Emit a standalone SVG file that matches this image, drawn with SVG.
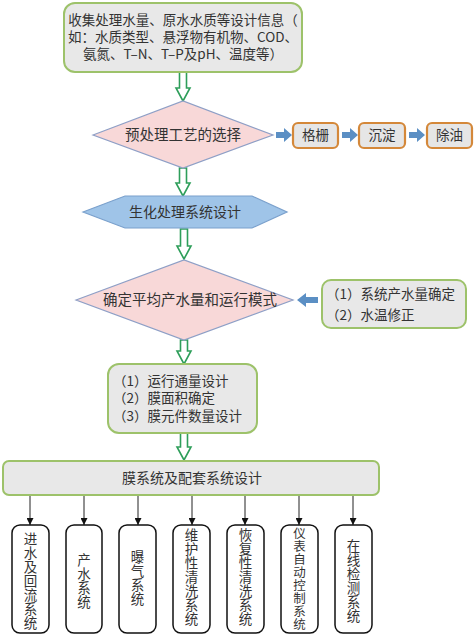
<svg xmlns="http://www.w3.org/2000/svg" width="476" height="634" viewBox="0 0 476 634">
<defs>
<style>
text{font-family:"Noto Sans CJK SC","Noto Sans",sans-serif;fill:#333;}
.gbox{fill:#e8e8e8;stroke:#9dc26a;stroke-width:2;}
.obox{fill:#e6e6e6;stroke:#d4883a;stroke-width:2.2;}
.dia{fill:#f8d8d8;stroke:#8e9fc6;stroke-width:1.2;}
.hex{fill:#9fc4e8;stroke:#7aa0cc;stroke-width:1.2;}
.hollow{fill:#fff;stroke:#2e9e5a;stroke-width:1.6;}
.blue{fill:#5b8fc4;}
.sys{fill:#fff;stroke:#111;stroke-width:1.5;}
.line{stroke:#222;stroke-width:1;fill:none;}
.c{text-anchor:middle;}
.v{text-anchor:middle;font-size:13.5px;}
</style>
<marker id="ah" viewBox="0 0 10 10" refX="10" refY="5" markerWidth="7" markerHeight="7" markerUnits="userSpaceOnUse" orient="auto">
<path d="M0,0 L10,5 L0,10 Z" fill="#111"/>
</marker>
</defs>
<rect width="476" height="634" fill="#fff"/>

<g id="connectors">
<path class="hollow" d="M179.5,72 L186.5,72 L186.5,88 L190,88 L183,101 L176,88 L179.5,88 Z"/>
<path class="hollow" d="M179.5,168 L186.5,168 L186.5,183 L190,183 L183,196 L176,183 L179.5,183 Z"/>
<path class="hollow" d="M180.5,229 L187.5,229 L187.5,246 L191,246 L184,259 L177,246 L180.5,246 Z"/>
<path class="hollow" d="M180.5,340 L187.5,340 L187.5,351 L191,351 L184,364 L177,351 L180.5,351 Z"/>
<path class="hollow" d="M180.5,433 L187.5,433 L187.5,447 L191,447 L184,460 L177,447 L180.5,447 Z"/>
<path class="blue" d="M276,132 L284,132 L284,128 L292,135 L284,142 L284,138 L276,138 Z"/>
<path class="blue" d="M342,132 L350,132 L350,128 L358,135 L350,142 L350,138 L342,138 Z"/>
<path class="blue" d="M409,132 L417,132 L417,128 L425,135 L417,142 L417,138 L409,138 Z"/>
<path class="blue" d="M318,297 L306,297 L306,293 L297,300 L306,307 L306,303 L318,303 Z"/>
<line class="line" x1="30" y1="495" x2="30" y2="525" marker-end="url(#ah)"/>
<line class="line" x1="84" y1="495" x2="84" y2="525" marker-end="url(#ah)"/>
<line class="line" x1="138" y1="495" x2="138" y2="525" marker-end="url(#ah)"/>
<line class="line" x1="192" y1="495" x2="192" y2="525" marker-end="url(#ah)"/>
<line class="line" x1="245" y1="495" x2="245" y2="525" marker-end="url(#ah)"/>
<line class="line" x1="299" y1="495" x2="299" y2="525" marker-end="url(#ah)"/>
<line class="line" x1="353" y1="495" x2="353" y2="525" marker-end="url(#ah)"/>
</g>

<g id="collect">
<rect class="gbox" x="64" y="3" width="238" height="69" rx="11"/>
<text class="c" x="183" y="25" font-size="13.5">收集处理水量、原水水质等设计信息（</text>
<text class="c" x="183" y="42" font-size="13.5">如：水质类型、悬浮物有机物、COD、</text>
<text class="c" x="183" y="59" font-size="13.5">氨氮、T–N、T–P及pH、温度等）</text>
</g>

<g id="pretreat">
<polygon class="dia" points="93,135 183,101 273,135 183,168"/>
<text class="c" x="183" y="140" font-size="14.5">预处理工艺的选择</text>
</g>

<g id="grille">
<rect class="obox" x="293" y="123" width="45" height="25" rx="5"/>
<text class="c" x="315.5" y="140" font-size="13.5">格栅</text>
</g>
<g id="settle">
<rect class="obox" x="359" y="123" width="46" height="25" rx="5"/>
<text class="c" x="382" y="140" font-size="13.5">沉淀</text>
</g>
<g id="oil">
<rect class="obox" x="427" y="123" width="45" height="25" rx="5"/>
<text class="c" x="449.5" y="140" font-size="13.5">除油</text>
</g>

<g id="bio">
<polygon class="hex" points="83,212 125,196 252,196 287,212 252,228 125,228"/>
<text class="c" x="185" y="217" font-size="14">生化处理系统设计</text>
</g>

<g id="mode">
<polygon class="dia" points="76,300 184,260 293,300 184,340"/>
<text class="c" x="190" y="305" font-size="14.5">确定平均产水量和运行模式</text>
</g>

<g id="factors">
<rect class="gbox" x="322" y="280" width="144" height="48" rx="9"/>
<text x="326" y="299" font-size="13.5">（1）系统产水量确定</text>
<text x="326" y="320" font-size="13.5">（2）水温修正</text>
</g>

<g id="membrane">
<rect class="gbox" x="108" y="364" width="149" height="69" rx="11"/>
<text x="113" y="386" font-size="13.5">（1）运行通量设计</text>
<text x="113" y="403" font-size="13.5">（2）膜面积确定</text>
<text x="113" y="421" font-size="13.5">（3）膜元件数量设计</text>
</g>

<g id="system">
<rect class="gbox" x="3" y="461" width="376" height="34" rx="6"/>
<text class="c" x="192" y="483" font-size="14">膜系统及配套系统设计</text>
</g>

<g id="s1">
<rect class="sys" x="12" y="525" width="37" height="108" rx="8"/>
<text class="v" x="30.5"><tspan x="30.5" y="544">进</tspan><tspan x="30.5" y="558">水</tspan><tspan x="30.5" y="572">及</tspan><tspan x="30.5" y="586">回</tspan><tspan x="30.5" y="600">流</tspan><tspan x="30.5" y="614">系</tspan><tspan x="30.5" y="628">统</tspan></text>
</g>
<g id="s2">
<rect class="sys" x="66" y="525" width="36" height="108" rx="8"/>
<text class="v" x="84"><tspan x="84" y="565">产</tspan><tspan x="84" y="579">水</tspan><tspan x="84" y="593">系</tspan><tspan x="84" y="607">统</tspan></text>
</g>
<g id="s3">
<rect class="sys" x="119" y="525" width="37" height="108" rx="8"/>
<text class="v" x="137.5"><tspan x="137.5" y="562">曝</tspan><tspan x="137.5" y="576">气</tspan><tspan x="137.5" y="590">系</tspan><tspan x="137.5" y="604">统</tspan></text>
</g>
<g id="s4">
<rect class="sys" x="173" y="525" width="37" height="108" rx="8"/>
<text class="v" x="191.5"><tspan x="191.5" y="540">维</tspan><tspan x="191.5" y="554">护</tspan><tspan x="191.5" y="568">性</tspan><tspan x="191.5" y="582">清</tspan><tspan x="191.5" y="596">洗</tspan><tspan x="191.5" y="610">系</tspan><tspan x="191.5" y="624">统</tspan></text>
</g>
<g id="s5">
<rect class="sys" x="227" y="525" width="37" height="108" rx="8"/>
<text class="v" x="245.5"><tspan x="245.5" y="540">恢</tspan><tspan x="245.5" y="554">复</tspan><tspan x="245.5" y="568">性</tspan><tspan x="245.5" y="582">清</tspan><tspan x="245.5" y="596">洗</tspan><tspan x="245.5" y="610">系</tspan><tspan x="245.5" y="624">统</tspan></text>
</g>
<g id="s6">
<rect class="sys" x="281" y="525" width="37" height="108" rx="8"/>
<text class="v" x="299.5" style="font-size:12.5px"><tspan x="299.5" y="538">仪</tspan><tspan x="299.5" y="551">表</tspan><tspan x="299.5" y="564">自</tspan><tspan x="299.5" y="577">动</tspan><tspan x="299.5" y="590">控</tspan><tspan x="299.5" y="603">制</tspan><tspan x="299.5" y="616">系</tspan><tspan x="299.5" y="629">统</tspan></text>
</g>
<g id="s7">
<rect class="sys" x="335" y="525" width="37" height="108" rx="8"/>
<text class="v" x="353.5"><tspan x="353.5" y="551">在</tspan><tspan x="353.5" y="565">线</tspan><tspan x="353.5" y="579">检</tspan><tspan x="353.5" y="593">测</tspan><tspan x="353.5" y="607">系</tspan><tspan x="353.5" y="621">统</tspan></text>
</g>
</svg>
